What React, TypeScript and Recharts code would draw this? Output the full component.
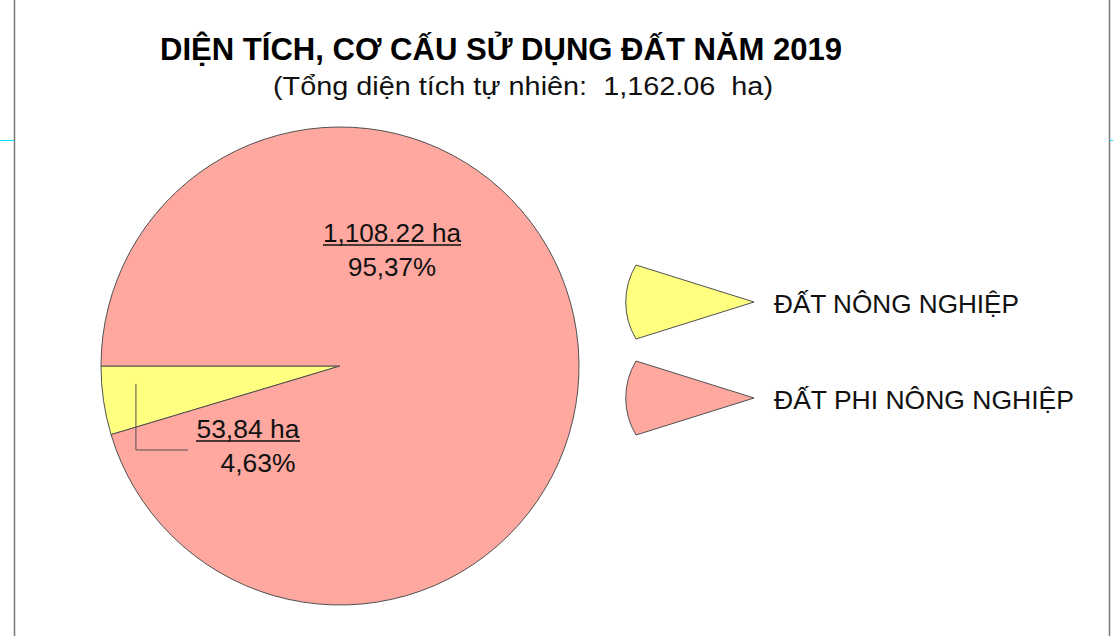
import { Legend, Pie, PieChart, Cell } from 'recharts';

// land use 2019, hectares
const CATEGORIES = ['ĐẤT NÔNG NGHIỆP', 'ĐẤT PHI NÔNG NGHIỆP'];
const AREA_HA = [53.84, 1108.22];
const AREA_TEXT = ['53,84 ha', '1,108.22 ha'];
const TOTAL_HA = 1162.06;

const TITLE = 'DIỆN TÍCH, CƠ CẤU SỬ DỤNG ĐẤT NĂM 2019';
const SUBTITLE = '(Tổng diện tích tự nhiên:  1,162.06  ha)';

const COLORS = ['#FFFF80', '#FFA8A0'];
const EDGE = '#505050';
const FONT = '"Liberation Sans", Arial, sans-serif';

const W = 1113;
const H = 636;

const data = CATEGORIES.map((name, i) => ({ name, value: AREA_HA[i] }));

const pct = (v: number) => ((v / TOTAL_HA) * 100).toFixed(2).replace('.', ',') + '%';

function SliceLabel(props: any) {
  const { cx, cy, index, midAngle, outerRadius } = props;
  const value = AREA_HA[index];
  const txt = AREA_TEXT[index];
  if (index === 1) {
    // big slice: text sits inside, upper right of centre
    const x = cx + 52;
    const y = cy - 124;
    return (
      <g fontFamily={FONT} fontSize={25} fill="#111">
        <text x={x} y={y} textAnchor="middle" textLength={138} lengthAdjust="spacingAndGlyphs">{txt}</text>
        <line x1={x - 69} x2={x + 69} y1={y + 3} y2={y + 3} stroke="#111" strokeWidth={1.5} />
        <text x={x} y={y + 34} textAnchor="middle" textLength={88} lengthAdjust="spacingAndGlyphs">{pct(value)}</text>
      </g>
    );
  }
  // small slice: leader line drops out of the wedge, text to its right
  const rad = (Math.PI / 180) * midAngle;
  const sx = cx + outerRadius * 0.863 * Math.cos(rad);
  const sy = cy - outerRadius * 0.863 * Math.sin(rad) - 12;
  const ey = cy + 84;
  const tx = sx + 112;
  return (
    <g fontFamily={FONT} fontSize={25} fill="#111">
      <polyline points={`${sx},${sy} ${sx},${ey} ${sx + 52},${ey}`} fill="none" stroke={EDGE} strokeWidth={1} />
      <text x={tx} y={cy + 72} textAnchor="middle" textLength={103} lengthAdjust="spacingAndGlyphs">{txt}</text>
      <line x1={tx - 52} x2={tx + 52} y1={cy + 75} y2={cy + 75} stroke="#111" strokeWidth={1.5} />
      <text x={tx + 10} y={cy + 106} textAnchor="middle" textLength={75} lengthAdjust="spacingAndGlyphs">{pct(value)}</text>
    </g>
  );
}

function wedge(tipX: number, tipY: number) {
  const r = 72;
  const dx = 118;
  const dy = 37;
  return `M${tipX},${tipY} L${tipX - dx},${tipY - dy} A${r},${r} 0 0 0 ${tipX - dx},${tipY + dy} Z`;
}

const LEGEND_TEXT_W = [245, 300];

function WedgeLegend() {
  return (
    <svg width={500} height={200} style={{ overflow: 'visible' }}>
      {CATEGORIES.map((name, i) => {
        const tipY = 62 + i * 96;
        return (
          <g key={name}>
            <path d={wedge(154, tipY)} fill={COLORS[i]} stroke={EDGE} strokeWidth={1} />
            <text
              x={174}
              y={tipY + 11}
              fontFamily={FONT}
              fontSize={25}
              fill="#111"
              textLength={LEGEND_TEXT_W[i]}
              lengthAdjust="spacingAndGlyphs"
            >
              {name}
            </text>
          </g>
        );
      })}
    </svg>
  );
}

export default function App() {
  return (
    <div style={{ position: 'absolute', left: 0, top: 0, width: W, height: H, background: '#fff' }}>
      <svg width={W} height={H} style={{ position: 'absolute', left: 0, top: 0 }}>
        <line x1={14.5} x2={14.5} y1={0} y2={H} stroke="#777" strokeWidth={1.5} />
        <line x1={1109.5} x2={1109.5} y1={0} y2={H} stroke="#777" strokeWidth={1.5} />
        <line x1={0} x2={14} y1={140.5} y2={140.5} stroke="#00E5FF" strokeWidth={1} />
        <line x1={1110} x2={W} y1={140.5} y2={140.5} stroke="#00E5FF" strokeWidth={1} />
        <text
          x={501}
          y={60}
          textAnchor="middle"
          fontFamily={FONT}
          fontWeight="bold"
          fontSize={31}
          fill="#000"
          textLength={682}
          lengthAdjust="spacingAndGlyphs"
        >
          {TITLE}
        </text>
        <text
          x={523}
          y={95}
          textAnchor="middle"
          fontFamily={FONT}
          fontSize={26}
          fill="#111"
          textLength={500}
          lengthAdjust="spacingAndGlyphs"
          style={{ whiteSpace: 'pre' }}
        >
          {SUBTITLE}
        </text>
      </svg>
      <div style={{ position: 'absolute', left: 0, top: 0 }}>
        <PieChart width={W} height={H}>
          <Pie
            data={data}
            dataKey="value"
            nameKey="name"
            cx={335}
            cy={361}
            outerRadius={239}
            startAngle={180}
            endAngle={540}
            stroke={EDGE}
            strokeWidth={1}
            label={SliceLabel}
            labelLine={false}
            isAnimationActive={false}
          >
            {data.map((d, i) => (
              <Cell key={d.name} fill={COLORS[i]} />
            ))}
          </Pie>
          <Legend
            content={() => <WedgeLegend />}
            wrapperStyle={{ left: 600, top: 240, width: 500, height: 200 }}
          />
        </PieChart>
      </div>
    </div>
  );
}
